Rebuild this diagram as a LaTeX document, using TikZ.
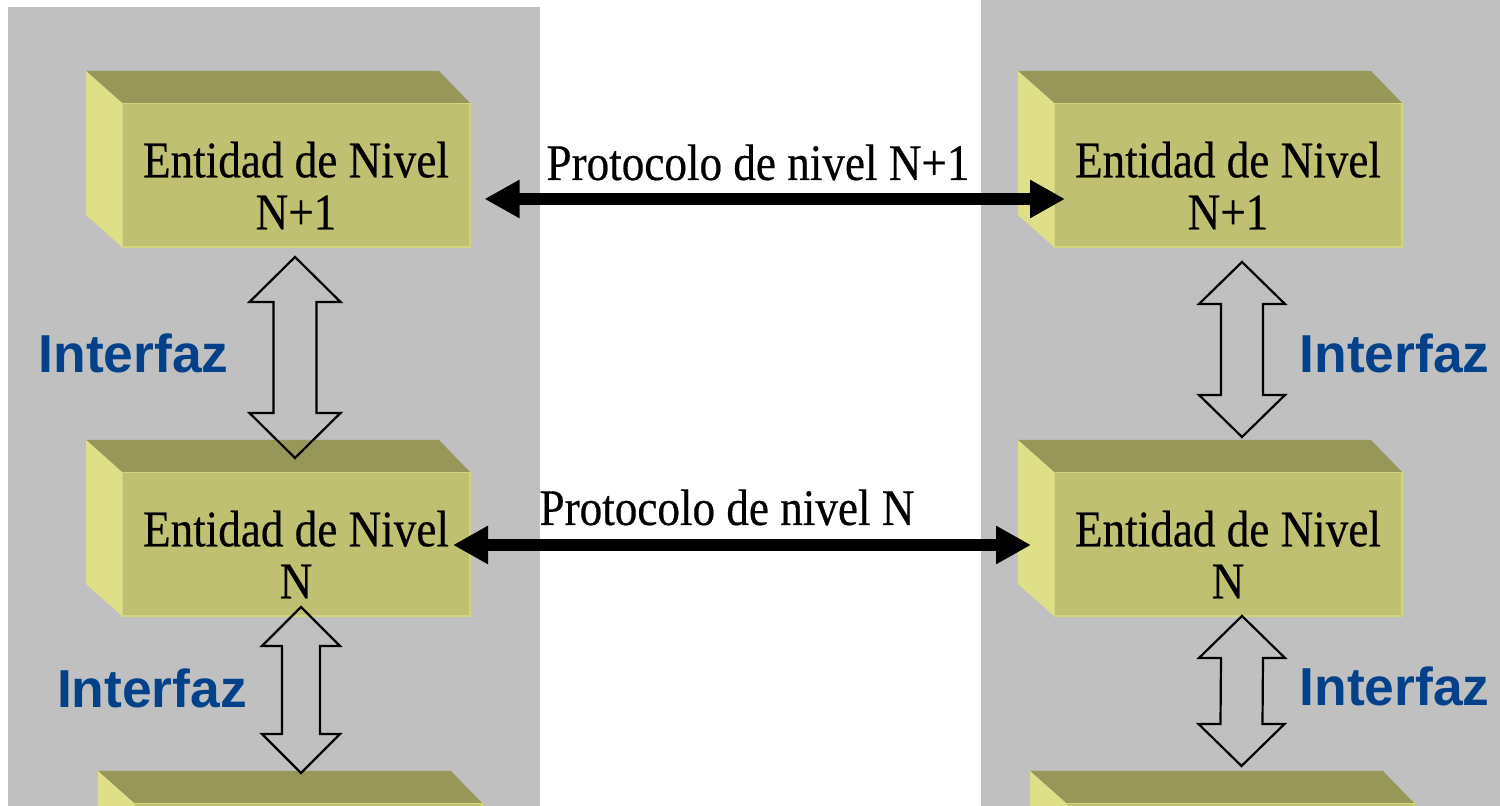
\documentclass[tikz,border=0pt]{standalone}
\usepackage{fontspec}
\usepackage{xcolor}
\usepackage{tikz}
\usetikzlibrary{arrows.meta,calc,positioning}

\newfontfamily\serifn[FakeStretch=0.88,FakeBold=0.4]{Liberation Serif}
\newfontfamily\sansn{Liberation Sans}

\definecolor{panel}{HTML}{C0C0C0}
\definecolor{tapa}{HTML}{979759}
\definecolor{lado}{HTML}{DFDF87}
\definecolor{frente}{HTML}{C0C073}
\definecolor{borde}{HTML}{D4D47C}
\definecolor{azul}{HTML}{03428A}

\tikzset{
    caja/.style={
        fill=frente,
        draw=borde,
        line width=0.2mm,
        minimum width=34.8mm,
        minimum height=14.4mm,
        inner sep=0pt,
        outer sep=0pt
    },
    caratapa/.style={fill=tapa},
    caralado/.style={fill=lado},
    txtcaja/.style={
        font=\serifn\fontsize{14.6}{14.8}\selectfont,
        align=center,
        inner sep=0pt
    },
    txtproto/.style={
        font=\serifn\fontsize{14.6}{14.8}\selectfont,
        anchor=base,
        inner sep=0pt
    },
    interfaz/.style={
        font=\sansn\bfseries\fontsize{15.2}{18}\selectfont,
        text=azul,
        anchor=base,
        inner sep=0pt
    },
    proto/.style={
        line width=1.15mm,
        {Triangle[length=3.5mm,width=3.6mm]}-{Triangle[length=3.5mm,width=3.6mm]}
    },
    hueca/.style={
        draw=black,
        line width=0.22mm,
        line join=miter
    }
}

% #1 punta de arriba, #2 punta de abajo, #3 largo punta, #4 media punta, #5 medio cuerpo
\newcommand{\hueca}[5]{%
    \draw[hueca] (#1) -- ++(#4,#3) -- ++(#5-#4,0) -- ($(#2)+(#5,-#3)$)
        -- ++(#4-#5,0) -- (#2) -- ++(-#4,-#3) -- ++(#4-#5,0)
        -- ($(#1)+(-#5,#3)$) -- ++(#5-#4,0) -- cycle;
}

\begin{document}
\begin{tikzpicture}[x=0.1mm,y=-0.1mm]
    \clip (0,0) rectangle (1500,806);
    \fill[white] (0,0) rectangle (1500,806);

    \fill[panel] (8,7) rectangle (540,806);
    \fill[panel] (981,0) rectangle (1500,806);

    \node[caja] (e1L) at (296,175) {};
    \node[caja, below=22.5mm of e1L] (e2L) {};
    \node[caja, below=18.7mm of e2L, xshift=1.2mm] (e3L) {};
    \node[caja, right=58.4mm of e1L] (e1R) {};
    \node[caja, below=22.5mm of e1R] (e2R) {};
    \node[caja, below=18.7mm of e2R, xshift=1.2mm] (e3R) {};

    \foreach \e in {e1L,e2L,e3L,e1R,e2R,e3R}{
        \fill[caratapa] (\e.north west) -- ++(-36,-32)
            -- ($(\e.north east)+(-31,-32)$) -- (\e.north east) -- cycle;
        \fill[caralado] (\e.north west) -- ++(-36,-32)
            -- ++(0,144) -- (\e.south west) -- cycle;
    }

    \node[txtcaja] (t1L) at ($(e1L)+(0,10.5)$) {Entidad de Nivel\\N+1};
    \node[txtcaja] (t2L) at ($(e2L)+(0,10.5)$) {Entidad de Nivel\\N};
    \node[txtcaja] (t1R) at ($(e1R)+(0,10.5)$) {Entidad de Nivel\\N+1};
    \node[txtcaja] (t2R) at ($(e2R)+(0,10.5)$) {Entidad de Nivel\\N};

    \node[txtproto] (p1) at (758,180) {Protocolo de nivel N+1};
    \node[txtproto] (p2) at (727,525) {Protocolo de nivel N};

    \draw[proto, shorten <=1.45mm, shorten >=-1.1mm]
        ([yshift=-2.4mm]e1L.east) -- ([yshift=-2.4mm]e1R.west);
    \draw[proto, shorten <=-1.7mm, shorten >=2.3mm]
        ([yshift=-0.1mm]e2L.east) -- ([yshift=-0.1mm]e2R.west);

    \coordinate (h1a) at ($(e1L.south)+(-1,10)$);
    \coordinate (h1b) at ($(e2L.north)+(-1,-14)$);
    \coordinate (h2a) at ($(e2L.south)+(5,-9)$);
    \coordinate (h2b) at ($(e3L.north)+(-7,-30)$);
    \coordinate (h3a) at ($(e1R.south)+(14,15)$);
    \coordinate (h3b) at ($(e2R.north)+(14,-35)$);
    \coordinate (h4a) at ($(e2R.south)+(14,0)$);
    \coordinate (h4b) at ($(e3R.north)+(1.5,-37)$);

    \hueca{h1a}{h1b}{45}{45.5}{21.5}
    \hueca{h2a}{h2b}{39}{39}{19}
    \hueca{h3a}{h3b}{42}{43}{21}
    \hueca{h4a}{h4b}{42}{43}{21}

    \node[interfaz] (i1) at (133.5,373) {Interfaz};
    \node[interfaz] (i2) at (152,708) {Interfaz};
    \node[interfaz] (i3) at (1394.5,373) {Interfaz};
    \node[interfaz] (i4) at (1394.5,706) {Interfaz};
\end{tikzpicture}
\end{document}
